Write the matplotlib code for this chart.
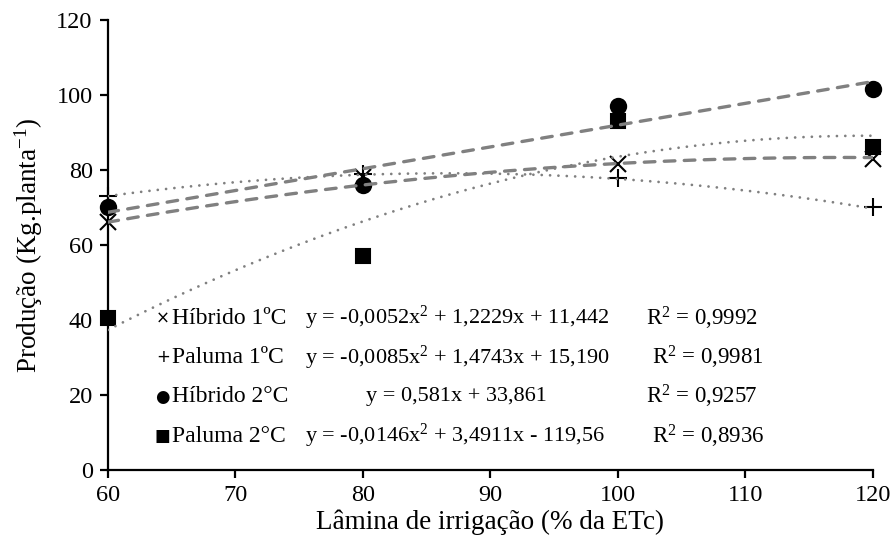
import numpy as np
import matplotlib
matplotlib.use('Agg')
import matplotlib.pyplot as plt

FONT = 'Liberation Serif'
plt.rcParams['font.family'] = [FONT, 'DejaVu Serif']
plt.rcParams['mathtext.fontset'] = 'custom'
plt.rcParams['mathtext.rm'] = FONT
plt.rcParams['mathtext.default'] = 'regular'

# observed values
laminas = [60, 80, 100, 120]
hibrido_1 = [66, 78, 81.5, 83]
paluma_1 = [73, 79, 77.8, 70]
hibrido_2 = [70, 76, 97, 101.5]
paluma_2 = [40.5, 57, 93, 86]

# fitted trendline coefficients (a, b, c) for y = a*x^2 + b*x + c
coef_hibrido_1 = [-0.0052, 1.2229, 11.442]
coef_paluma_1 = [-0.0085, 1.4743, 15.190]
coef_hibrido_2 = [0.0, 0.581, 33.861]
coef_paluma_2 = [-0.0146, 3.4911, -119.56]

nomes = ['Híbrido 1ºC', 'Paluma 1ºC', 'Híbrido 2°C', 'Paluma 2°C']
simbolos = ['×', '+', '●', '■']
equacoes = ['y = -0,0052x$^2$ + 1,2229x + 11,442',
            'y = -0,0085x$^2$ + 1,4743x + 15,190',
            'y = 0,581x + 33,861',
            'y = -0,0146x$^2$ + 3,4911x - 119,56']
r2 = ['R$^2$ = 0,9992', 'R$^2$ = 0,9981', 'R$^2$ = 0,9257', 'R$^2$ = 0,8936']

fig = plt.figure(figsize=(8.96, 5.52), dpi=100)
ax = fig.add_axes([0.1205, 0.1486, 0.8538, 0.8152])

dash = (0, (3.2, 2.8))
dots = (0, (0.01, 3.0))
series = [
    (hibrido_1, coef_hibrido_1, 'x', 11, dash, 2.4),
    (paluma_1, coef_paluma_1, '+', 13, dots, 2.0),
    (hibrido_2, coef_hibrido_2, 'o', 11, dash, 2.4),
    (paluma_2, coef_paluma_2, 's', 10.5, dots, 2.0),
]

xs = np.linspace(60, 120, 200)
for vals, coef, mk, ms, ls, lw in series:
    ax.plot(laminas, vals, linestyle='none', marker=mk, markersize=ms,
            color='black', markeredgewidth=1.5, zorder=2, clip_on=False)
    ys = np.polyval(coef, xs)
    ax.plot(xs, ys, color='#808080', linestyle=ls, linewidth=lw,
            dash_capstyle='round', solid_capstyle='round', zorder=3)

# text legend with equations
rows_y = [40.5, 30.0, 19.5, 9.0]
eq_x = [75.45, 75.45, 80.2, 75.45]
r2_x = [102.2, 102.7, 102.2, 102.7]
for i in range(4):
    ax.text(64.3, rows_y[i], simbolos[i], fontsize=12, ha='center', va='center',
            family=['DejaVu Sans'])
    ax.text(65.0, rows_y[i], nomes[i], fontsize=17, ha='left', va='center')
    ax.text(eq_x[i], rows_y[i], equacoes[i], fontsize=16, ha='left', va='center')
    ax.text(r2_x[i], rows_y[i], r2[i], fontsize=16.5, ha='left', va='center')

ax.set_xlim(60, 120)
ax.set_ylim(0, 120)
ax.set_xticks(range(60, 121, 10))
ax.set_yticks(range(0, 121, 20))
ax.spines['top'].set_visible(False)
ax.spines['right'].set_visible(False)
for s in ['left', 'bottom']:
    ax.spines[s].set_linewidth(1.6)
ax.tick_params(direction='out', length=6, width=1.6, labelsize=17.5, pad=5)
ax.set_xlabel('Lâmina de irrigação (% da ETc)', fontsize=19.5, labelpad=2)
ax.set_ylabel('Produção (Kg.planta$^{-1}$)', fontsize=19.5, labelpad=8)

fig.savefig('out.png', dpi=100)
